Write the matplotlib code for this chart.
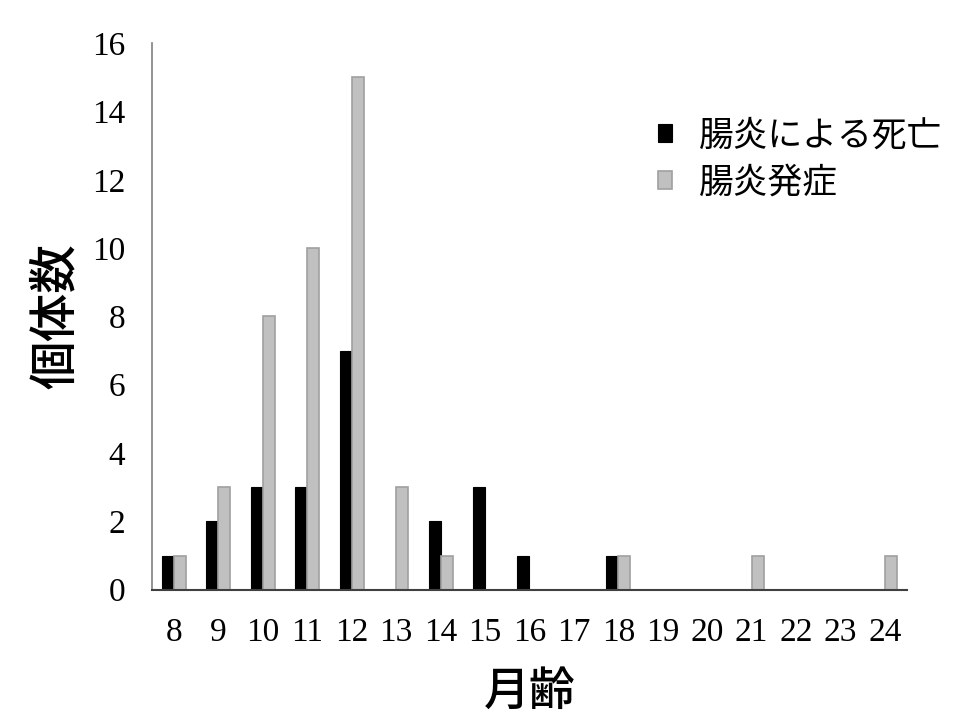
import matplotlib
matplotlib.use("Agg")
import matplotlib.pyplot as plt
import numpy as np

# months of age and counts
months = ["8", "9", "10", "11", "12", "13", "14", "15", "16", "17", "18",
          "19", "20", "21", "22", "23", "24"]
deaths = [1, 2, 3, 3, 7, 0, 2, 3, 1, 0, 1, 0, 0, 0, 0, 0, 0]
onset = [1, 3, 8, 10, 15, 3, 1, 0, 0, 0, 1, 0, 0, 1, 0, 0, 1]
yticks = [0, 2, 4, 6, 8, 10, 12, 14, 16]

cjk = ["Noto Sans CJK JP", "DejaVu Sans"]
serif = "Liberation Serif"

fig = plt.figure(figsize=(9.6, 7.2), dpi=100)
ax = fig.add_axes([0.158, 0.181, 0.787, 0.759])

x = np.arange(len(months))
w = 0.27
ax.bar(x - w / 2, deaths, width=w, color="black", edgecolor="black",
       linewidth=0.8, label="腸炎による死亡")
ax.bar(x + w / 2, onset, width=w, color="#c0c0c0", edgecolor="#a0a0a0",
       linewidth=1.2, label="腸炎発症")

ax.set_xlim(-0.5, len(months) - 0.5)
ax.set_ylim(0, 16)
ax.set_xticks(x)
ax.set_xticklabels(months, fontfamily=serif, fontsize=24)
ax.set_yticks(yticks)
ax.set_yticklabels([str(v) for v in yticks], fontfamily=serif, fontsize=24)
ax.tick_params(axis="x", length=0, pad=20)
ax.tick_params(axis="y", length=0, pad=19)

for s in ["top", "right"]:
    ax.spines[s].set_visible(False)
ax.spines["left"].set_color("#808080")
ax.spines["bottom"].set_color("#404040")
ax.spines["left"].set_linewidth(1.2)
ax.spines["bottom"].set_linewidth(1.5)

ax.set_xlabel("月齢", fontfamily=cjk, fontsize=33, fontweight="medium", labelpad=14)
ax.set_ylabel("個体数", fontfamily=cjk, fontsize=35, fontweight="medium", labelpad=8)

ax.legend(loc="upper right", bbox_to_anchor=(1.087, 0.92), frameon=False,
          prop={"family": cjk, "size": 25}, handlelength=0.42,
          handleheight=0.42, handletextpad=0.75, labelspacing=0.35)

fig.savefig("out.png", dpi=100)
